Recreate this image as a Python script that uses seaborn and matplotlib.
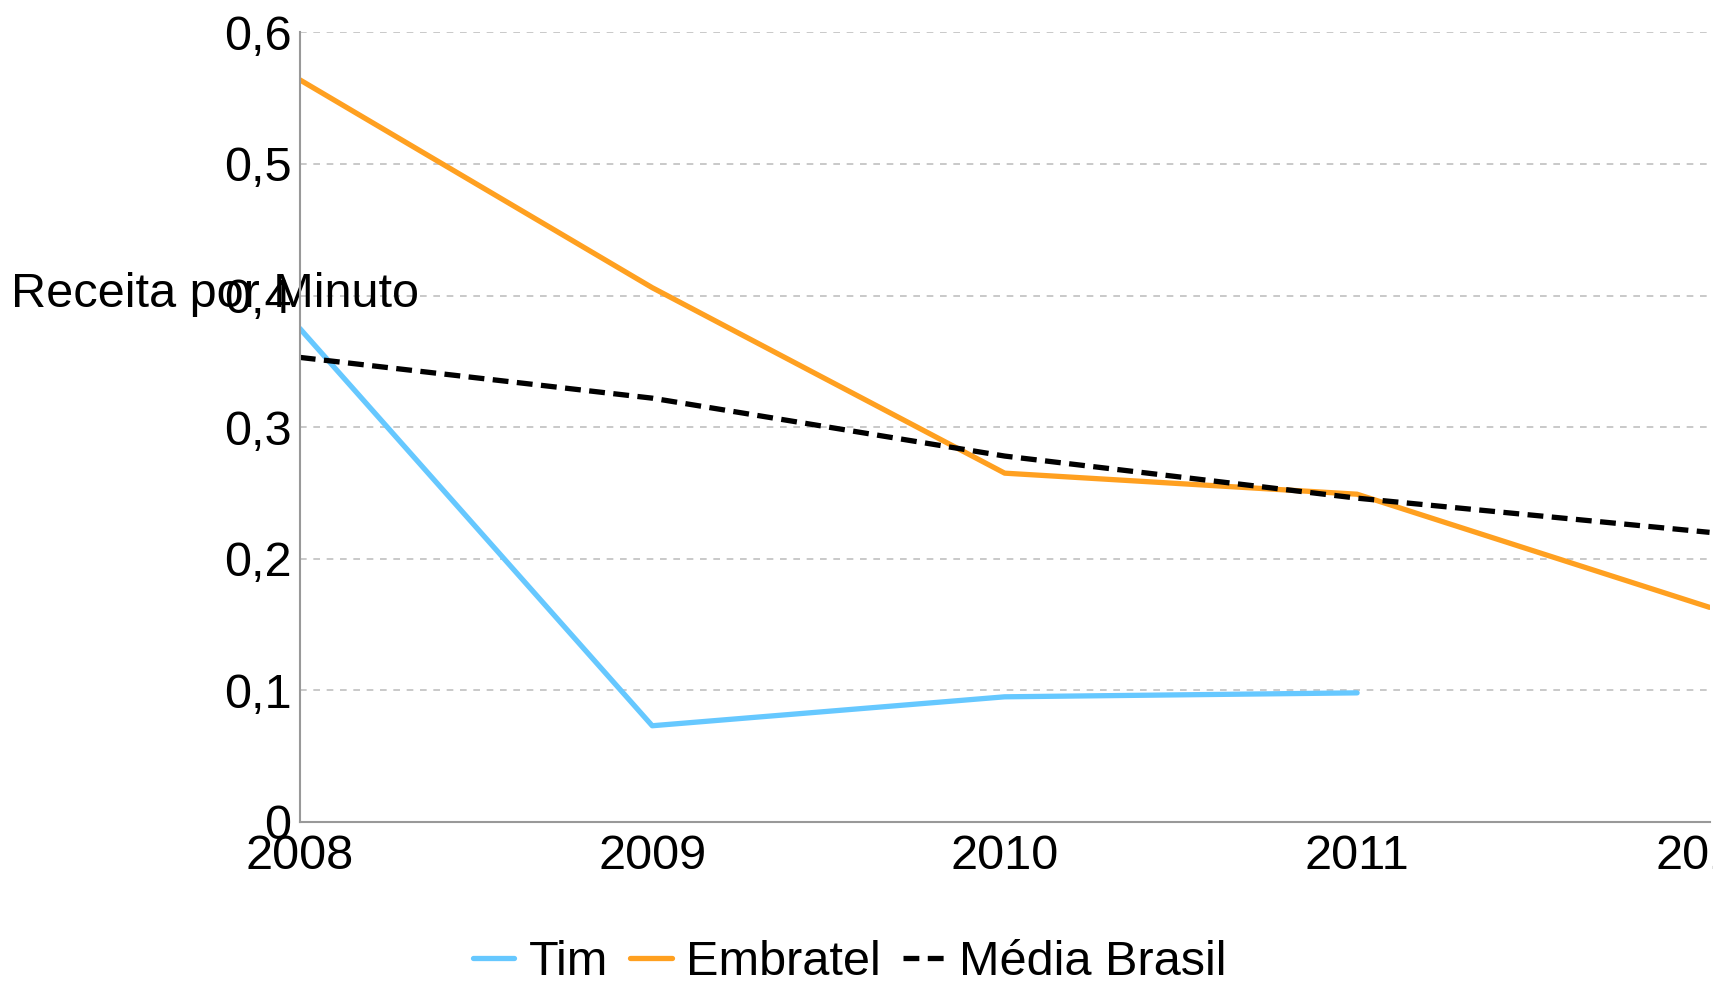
import matplotlib
matplotlib.use("Agg")
import matplotlib.pyplot as plt
import matplotlib.ticker as mticker
from matplotlib.lines import Line2D
import seaborn as sns
import pandas as pd

years = [2008, 2009, 2010, 2011, 2012]
tim = [0.375, 0.073, 0.095, 0.098, None]
embratel = [0.564, 0.406, 0.265, 0.249, 0.163]
media_brasil = [0.353, 0.322, 0.278, 0.246, 0.220]
series_names = ["Tim", "Embratel", "Média Brasil"]
y_label = "Receita por Minuto"

sns.set_theme(style="white")
plt.rcParams['font.family'] = ['Liberation Sans', 'DejaVu Sans']
plt.rcParams['text.color'] = 'black'
plt.rcParams['axes.labelcolor'] = 'black'

df = pd.DataFrame({
    "Ano": years * 3,
    "Valor": tim + embratel + media_brasil,
    "Série": [series_names[0]] * 5 + [series_names[1]] * 5 + [series_names[2]] * 5,
})
df = df.dropna()

fig = plt.figure(figsize=(17.13, 9.83), dpi=100)
ax = fig.add_axes([0.175, 0.164, 0.823, 0.803])

palette = {"Tim": "#66c8ff", "Embratel": "#ffa020", "Média Brasil": "#000000"}
dashes = {"Tim": "", "Embratel": "", "Média Brasil": (3, 1.6)}
lw = 3.8
sns.lineplot(data=df, x="Ano", y="Valor", hue="Série", style="Série",
             palette=palette, dashes=dashes, linewidth=lw, ax=ax, legend=False)

ax.set_xlim(2008, 2012)
ax.set_ylim(0, 0.6)
ax.set_xticks(years)
ax.set_yticks([0, 0.1, 0.2, 0.3, 0.4, 0.5, 0.6])
ax.yaxis.set_major_formatter(mticker.FuncFormatter(
    lambda v, p: "0" if abs(v) < 1e-9 else f"{v:.1f}".replace(".", ",")))
ax.tick_params(axis="both", labelsize=35, length=0, colors="black")
ax.tick_params(axis="y", pad=6)
ax.tick_params(axis="x", pad=9)
ax.grid(axis="y", color="#c0c0c0", linestyle=(0, (4, 4)), linewidth=1.2)
ax.grid(axis="x", visible=False)
for s in ["top", "right"]:
    ax.spines[s].set_visible(False)
for s in ["left", "bottom"]:
    ax.spines[s].set_color("#999999")
    ax.spines[s].set_linewidth(1.5)

ax.set_xlabel("")
ax.set_ylabel(y_label, rotation=0, fontsize=35, ha="center", va="center", color="black")
ax.yaxis.set_label_coords(-0.060, 0.668)

handles = [Line2D([], [], color=palette[n], linewidth=lw,
                  linestyle=(0, (3, 1.6)) if n == "Média Brasil" else "-")
           for n in series_names]
fig.legend(handles, series_names, loc="center", bbox_to_anchor=(0.496, 0.021),
           ncol=3, frameon=False, fontsize=35, handlelength=0.85,
           handletextpad=0.3, columnspacing=0.45, labelcolor="black",
           borderpad=0.1)

fig.savefig("out.png", dpi=100)
